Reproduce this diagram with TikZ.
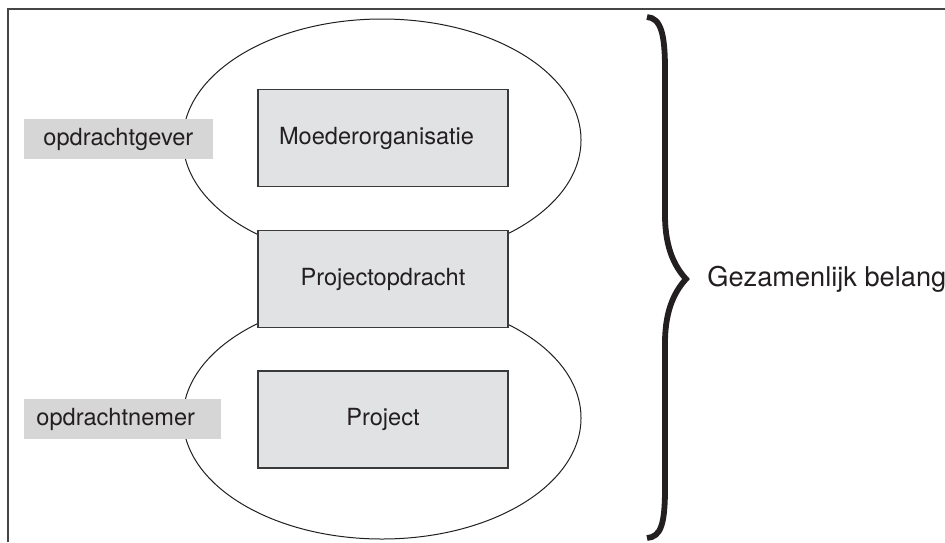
\documentclass[tikz,border=0pt]{standalone}
\usepackage{fontspec}
\setsansfont{TeX Gyre Heros}
\usepackage{tikz}
\usetikzlibrary{positioning, shapes.geometric}
\definecolor{Ink}{HTML}{231F20}
\definecolor{Frame}{HTML}{454545}
\definecolor{Edge}{HTML}{3A3A3A}
\definecolor{BoxFill}{HTML}{E1E2E4}
\definecolor{TagFill}{HTML}{D6D6D6}

\begin{document}
\begin{tikzpicture}[
  x=0.5pt, y=-0.5pt,
  font=\sffamily\fontsize{11.8}{14}\selectfont, text=Ink,
  frame/.style={draw=Frame, line width=1.1pt},
  sphere/.style={ellipse, draw=Ink, line width=0.5pt, minimum width=199pt, minimum height=121pt, inner sep=0pt},
  unit/.style={draw=Edge, line width=0.6pt, fill=BoxFill, minimum width=125pt, minimum height=48.5pt, inner sep=0pt, align=center},
  tag/.style={fill=TagFill, minimum height=20pt, inner ysep=0pt, anchor=west, align=left},
  brace/.style={draw=Ink, line width=2.9pt, line join=miter}
]
\useasboundingbox (0,0) rectangle (945,542);
\draw[frame] (8,542) -- (8,9) -- (945,9);

\node[sphere] (top) at (382,140) {};
\node[sphere] (bottom) at (382,418) {};

\node[unit, align=left, text width=104pt, inner xsep=10.5pt] (moeder) at (383,138) {Moederorganisatie};
\node[unit] (opdracht) at (383,279) {Projectopdracht};
\node[unit] (project) at (383,419.5) {Project};

\node[tag, text width=75.5pt, inner xsep=9.5pt] (gever) at (24,139) {opdrachtgever};
\node[tag, text width=86.5pt, inner xsep=6pt] (nemer) at (24,419) {opdrachtnemer};

\coordinate (tip) at (686,279);
\draw[brace] (647,17) .. controls (661,18) and (665,34) .. (665,70) -- (665,215)
  .. controls (665,250) and (676,268) .. (tip)
  .. controls (676,290) and (665,308) .. (665,343) -- (665,488)
  .. controls (665,524) and (661,537) .. (647,538);
\node[font=\sffamily\fontsize{13.6}{16}\selectfont, inner sep=0pt, right=10.5pt of tip] (belang) {Gezamenlijk belang};
\end{tikzpicture}
\end{document}
